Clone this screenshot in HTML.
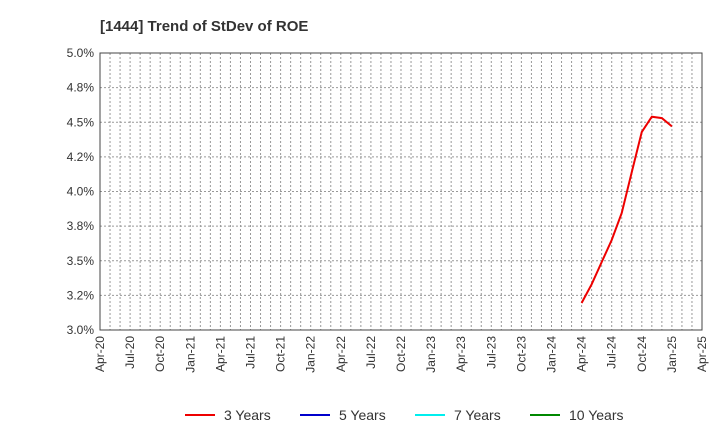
<!DOCTYPE html>
<html><head><meta charset="utf-8"><style>
body{margin:0;background:#fff;font-family:"Liberation Sans",Arial,sans-serif}
svg{display:block}
</style></head><body>
<svg id="chart" width="720" height="440">
<text x="100" y="31" font-size="15" font-weight="bold" fill="#333">[1444]  Trend of StDev of ROE</text>
<g id="grid"></g><g id="axes"></g><g id="series"></g><g id="legend"></g>
</svg>
<script>
const months = ["Apr-24","May-24","Jun-24","Jul-24","Aug-24","Sep-24","Oct-24","Nov-24","Dec-24","Jan-25"];
const values3y = [3.195,3.33,3.49,3.65,3.845,4.14,4.43,4.54,4.53,4.47];
const yTicks = [3.0,3.25,3.5,3.75,4.0,4.25,4.5,4.75,5.0];
const yTickLabels = ["3.0%","3.2%","3.5%","3.8%","4.0%","4.2%","4.5%","4.8%","5.0%"];
const xTickLabels = ["Apr-20","Jul-20","Oct-20","Jan-21","Apr-21","Jul-21","Oct-21","Jan-22","Apr-22","Jul-22","Oct-22","Jan-23","Apr-23","Jul-23","Oct-23","Jan-24","Apr-24","Jul-24","Oct-24","Jan-25","Apr-25"];
const legendLabels = ["3 Years","5 Years","7 Years","10 Years"];
const legendColors = ["#e00","#00c","#0ee","#080"];
const L=100,R=702,T=53,B=330,NM=60;
const ns="http://www.w3.org/2000/svg";
function mk(t,a,p){const e=document.createElementNS(ns,t);for(const k in a)e.setAttribute(k,a[k]);p.appendChild(e);return e;}
const xm=i=>L+(R-L)*i/NM;
const y=v=>B-(v-3)/2*(B-T);
function monthIdx(s){const m={Jan:0,Feb:1,Mar:2,Apr:3,May:4,Jun:5,Jul:6,Aug:7,Sep:8,Oct:9,Nov:10,Dec:11};const [mo,yr]=s.split("-");return (2000+ +yr)*12+m[mo]-(2020*12+3);}
const grid=document.getElementById("grid"),axes=document.getElementById("axes"),ser=document.getElementById("series"),leg=document.getElementById("legend");
for(let i=1;i<NM;i++){const l=mk("line",{x1:xm(i),x2:xm(i),y1:T,y2:B,stroke:"#999","stroke-dasharray":"2,2","stroke-width":1},grid);
}
yTicks.forEach((v,i)=>{if(i>0&&i<yTicks.length-1){const l=mk("line",{x1:L,x2:R,y1:y(v),y2:y(v),stroke:"#999","stroke-dasharray":"2,2"},grid);
}
const t=mk("text",{x:L-6,y:y(v)+4,"text-anchor":"end","font-size":12,fill:"#333"},axes);t.textContent=yTickLabels[i];
});
xTickLabels.forEach((s,i)=>{const x=xm(i*3);const t=mk("text",{transform:`translate(${x+4},${B+6}) rotate(-90)`,"text-anchor":"end","font-size":12,fill:"#333"},axes);t.textContent=s;
});
const f=mk("rect",{x:L,y:T,width:R-L,height:B-T,fill:"none",stroke:"#444","stroke-width":1},axes);

const pts=months.map((m,i)=>xm(monthIdx(m))+","+y(values3y[i])).join(" ");
const pl=mk("polyline",{points:pts,fill:"none",stroke:"#e00","stroke-width":2},ser);

const lx=[185,300,415,530];
legendLabels.forEach((s,i)=>{const g=mk("g",{},leg);
mk("line",{x1:lx[i],x2:lx[i]+30,y1:415,y2:415,stroke:legendColors[i],"stroke-width":2},g);
const t=mk("text",{x:lx[i]+39,y:420,"font-size":14,fill:"#333"},g);t.textContent=s;});
</script>
</body></html>
